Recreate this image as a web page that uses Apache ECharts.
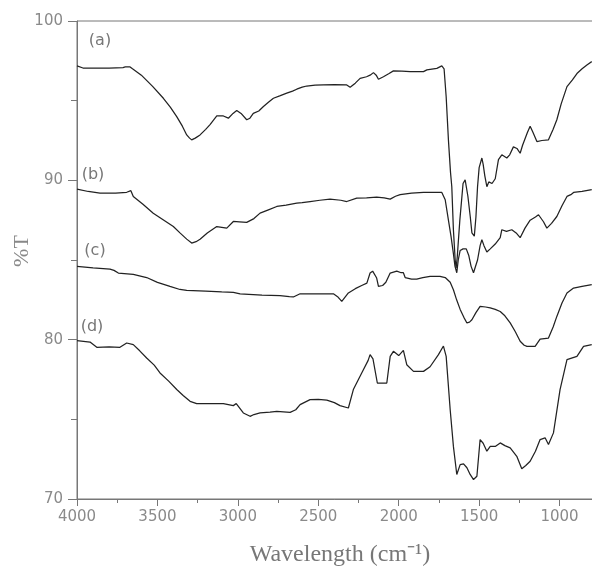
<!DOCTYPE html>
<html>
<head>
<meta charset="utf-8">
<script src="https://cdn.jsdelivr.net/npm/echarts@6/dist/echarts.min.js"></script>
<style>html,body{margin:0;padding:0;background:#fff}#c{width:592px;height:570px}</style>
</head>
<body>
<div id="c"></div>
<script>
// [wavenumber (cm-1), %T]
const seriesA = [[4000,97.18],[3963,97.05],[3800,97.05],[3714,97.08],[3700,97.12],[3670,97.12],[3655,97.0],[3600,96.6],[3530,95.9],[3463,95.15],[3420,94.6],[3380,94.0],[3345,93.4],[3318,92.85],[3300,92.65],[3287,92.54],[3265,92.65],[3235,92.85],[3200,93.2],[3173,93.5],[3131,94.04],[3090,94.04],[3059,93.9],[3030,94.2],[3007,94.38],[2980,94.2],[2945,93.8],[2925,93.9],[2904,94.2],[2870,94.35],[2841,94.63],[2810,94.9],[2779,95.15],[2740,95.3],[2696,95.47],[2660,95.6],[2634,95.72],[2600,95.85],[2572,95.92],[2520,95.97],[2468,95.99],[2400,96.0],[2323,95.99],[2302,95.84],[2270,96.1],[2240,96.4],[2200,96.5],[2178,96.6],[2157,96.76],[2140,96.6],[2126,96.34],[2095,96.5],[2060,96.7],[2033,96.87],[1980,96.85],[1929,96.82],[1846,96.82],[1825,96.93],[1763,97.03],[1732,97.18],[1718,97.0],[1705,95.25],[1691,92.54],[1678,90.5],[1670,89.6],[1660,86.9],[1649,85.0],[1643,84.5],[1636,85.2],[1620,87.5],[1600,89.8],[1587,90.03],[1570,89.0],[1555,87.7],[1545,86.7],[1530,86.5],[1520,87.7],[1510,89.6],[1500,90.8],[1483,91.4],[1475,91.0],[1465,90.3],[1452,89.6],[1440,89.9],[1420,89.8],[1400,90.1],[1380,91.3],[1359,91.6],[1328,91.4],[1310,91.6],[1287,92.1],[1265,92.0],[1245,91.7],[1230,92.2],[1200,93.0],[1183,93.4],[1165,93.0],[1141,92.43],[1110,92.5],[1069,92.54],[1040,93.2],[1017,93.8],[990,94.8],[954,95.88],[920,96.3],[892,96.7],[860,97.0],[830,97.24],[800,97.45]];
const seriesB = [[4000,89.45],[3930,89.3],[3857,89.2],[3760,89.2],[3691,89.25],[3665,89.35],[3650,88.99],[3590,88.5],[3526,87.94],[3460,87.5],[3401,87.1],[3360,86.7],[3318,86.31],[3287,86.06],[3260,86.15],[3235,86.3],[3190,86.7],[3131,87.1],[3100,87.05],[3069,87.0],[3028,87.42],[2990,87.4],[2945,87.36],[2900,87.6],[2862,87.94],[2810,88.15],[2758,88.36],[2700,88.45],[2634,88.57],[2600,88.6],[2551,88.67],[2490,88.75],[2427,88.82],[2360,88.75],[2323,88.67],[2261,88.88],[2200,88.9],[2137,88.94],[2090,88.9],[2053,88.82],[2020,89.0],[1991,89.1],[1920,89.2],[1846,89.24],[1780,89.24],[1732,89.24],[1711,88.78],[1691,87.5],[1675,86.5],[1660,85.4],[1650,84.6],[1639,84.2],[1630,85.0],[1618,85.6],[1600,85.7],[1580,85.7],[1565,85.3],[1550,84.6],[1535,84.2],[1525,84.1],[1510,85.0],[1494,85.9],[1483,86.27],[1470,85.9],[1452,85.5],[1431,85.7],[1400,86.0],[1369,86.4],[1359,86.9],[1330,86.8],[1297,86.9],[1270,86.7],[1245,86.4],[1215,87.0],[1183,87.5],[1150,87.7],[1131,87.84],[1100,87.4],[1079,87.0],[1050,87.3],[1017,87.73],[985,88.4],[954,88.99],[930,89.1],[913,89.24],[860,89.3],[800,89.42]];
const seriesC = [[4000,84.6],[3900,84.5],[3795,84.43],[3770,84.35],[3743,84.18],[3650,84.1],[3567,83.9],[3500,83.6],[3422,83.34],[3360,83.15],[3318,83.09],[3200,83.05],[3100,83.0],[3028,82.97],[2986,82.88],[2850,82.8],[2738,82.76],[2680,82.7],[2655,82.68],[2613,82.88],[2500,82.88],[2406,82.88],[2380,82.7],[2354,82.4],[2313,82.93],[2270,83.2],[2230,83.4],[2198,83.55],[2178,84.18],[2162,84.3],[2137,83.87],[2126,83.34],[2100,83.4],[2080,83.6],[2053,84.18],[2012,84.3],[1985,84.2],[1971,84.2],[1960,83.9],[1920,83.8],[1888,83.8],[1850,83.9],[1805,83.97],[1743,83.97],[1711,83.9],[1680,83.6],[1660,83.13],[1640,82.5],[1618,81.9],[1595,81.4],[1576,81.05],[1560,81.1],[1545,81.25],[1520,81.7],[1494,82.09],[1460,82.05],[1431,81.99],[1400,81.9],[1369,81.77],[1340,81.5],[1307,81.05],[1275,80.5],[1245,79.9],[1220,79.65],[1203,79.58],[1152,79.58],[1121,80.04],[1069,80.1],[1040,80.8],[1017,81.46],[985,82.3],[954,82.93],[913,83.24],[860,83.35],[800,83.45]];
const seriesD = [[4000,79.94],[3919,79.85],[3877,79.52],[3800,79.55],[3733,79.52],[3691,79.79],[3650,79.69],[3610,79.3],[3567,78.85],[3520,78.4],[3484,77.91],[3430,77.4],[3380,76.87],[3340,76.5],[3297,76.13],[3256,75.99],[3150,75.99],[3090,75.99],[3028,75.86],[3010,75.99],[2966,75.4],[2924,75.19],[2900,75.3],[2862,75.4],[2800,75.45],[2758,75.5],[2675,75.44],[2640,75.6],[2613,75.92],[2551,76.24],[2500,76.25],[2447,76.2],[2400,76.05],[2365,75.86],[2313,75.71],[2282,76.87],[2230,77.91],[2190,78.7],[2178,79.06],[2160,78.8],[2133,77.28],[2074,77.28],[2053,78.95],[2033,79.27],[2000,79.0],[1971,79.33],[1950,78.43],[1908,78.01],[1846,78.01],[1805,78.3],[1753,79.06],[1722,79.6],[1705,78.95],[1680,75.6],[1660,73.3],[1639,71.54],[1618,72.16],[1597,72.2],[1576,71.96],[1556,71.54],[1535,71.22],[1514,71.43],[1494,73.73],[1475,73.5],[1452,73.0],[1431,73.3],[1400,73.3],[1369,73.52],[1340,73.35],[1307,73.21],[1266,72.68],[1235,71.9],[1210,72.1],[1183,72.37],[1150,73.0],[1121,73.73],[1090,73.84],[1069,73.42],[1038,74.15],[997,76.87],[954,78.75],[892,78.95],[851,79.58],[800,79.69]];
const curveLabels = ['(a)', '(b)', '(c)', '(d)'];
const xTitle = 'Wavelength (cm\u207B\u00B9)';
const yTitle = '%T';

const chart = echarts.init(document.getElementById('c'), null, {renderer: 'canvas'});
const axisColor = '#777';
const labelColor = '#8a8a8a';
const lineStyle = {color: '#222', width: 1.25};
const mk = (d) => ({type: 'line', data: d, showSymbol: false, symbol: 'none', lineStyle: lineStyle, silent: true});
const labelPos = [[100, 41], [93, 175], [95, 251], [92, 327]];

chart.setOption({
  animation: false,
  grid: {left: 77, top: 21, width: 563, height: 478, show: true, borderColor: axisColor, borderWidth: 1, containLabel: false, outerBoundsMode: 'none'},
  xAxis: {
    type: 'value', min: 500, max: 4000, interval: 500, inverse: true,
    axisLine: {show: true, lineStyle: {color: axisColor, width: 1}},
    axisTick: {show: true, length: 7, inside: false, lineStyle: {color: axisColor}},
    minorTick: {show: true, splitNumber: 2, length: 4, lineStyle: {color: axisColor}},
    splitLine: {show: false},
    axisLabel: {color: labelColor, fontSize: 15, fontFamily: 'DejaVu Sans', margin: 11, formatter: (v) => String(v)}
  },
  yAxis: {
    type: 'value', min: 70, max: 100, interval: 10,
    axisLine: {show: true, lineStyle: {color: axisColor, width: 1}},
    axisTick: {show: true, length: 9, inside: false, lineStyle: {color: axisColor}},
    minorTick: {show: true, splitNumber: 2, length: 6, lineStyle: {color: axisColor}},
    splitLine: {show: false},
    axisLabel: {color: labelColor, fontSize: 15, fontFamily: 'DejaVu Sans', margin: 14}
  },
  series: [mk(seriesA), mk(seriesB), mk(seriesC), mk(seriesD)],
  graphic: [
    ...curveLabels.map((t, i) => ({type: 'text', x: labelPos[i][0], y: labelPos[i][1], style: {text: t, fill: '#777', font: '16px "DejaVu Sans"', textAlign: 'center', textVerticalAlign: 'middle'}})),
    {type: 'text', x: 340, y: 555, style: {text: xTitle, fill: '#777', font: '24px "Liberation Serif"', textAlign: 'center', textVerticalAlign: 'middle'}},
    {type: 'text', x: 22, y: 251, rotation: Math.PI / 2, style: {text: yTitle, fill: '#888', font: '22px "Liberation Serif"', textAlign: 'center', textVerticalAlign: 'middle'}}
  ]
});
</script>
</body>
</html>
